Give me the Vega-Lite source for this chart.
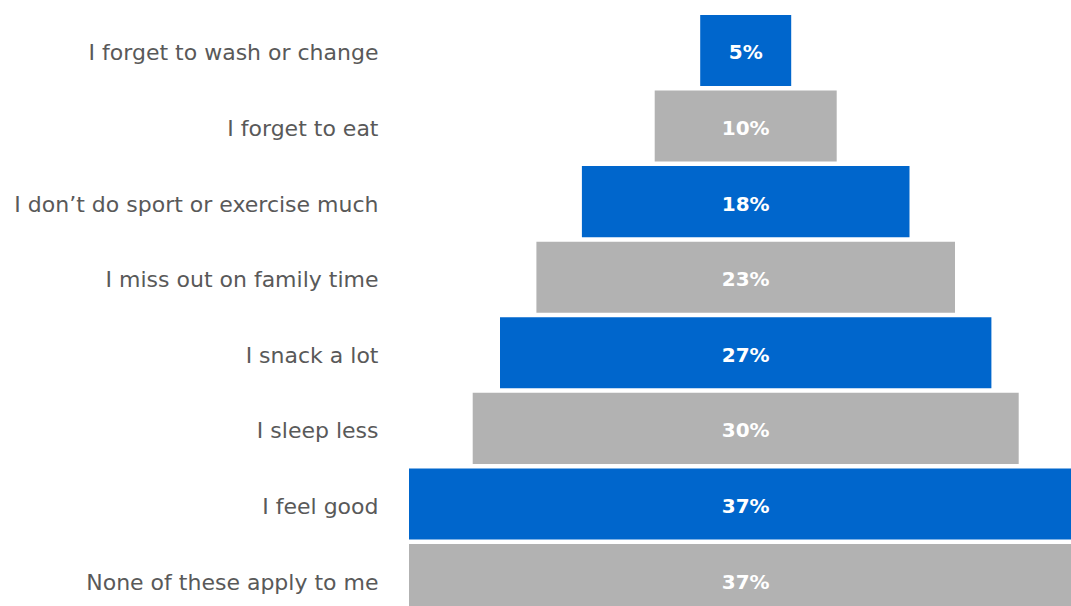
{
  "$schema": "https://vega.github.io/schema/vega-lite/v6.json",
  "autosize": "none",
  "width": 662,
  "height": 593.3,
  "padding": {"left": 409, "top": 12.7, "right": 0, "bottom": 0},
  "background": "white",
  "config": {"view": {"stroke": null}, "font": "DejaVu Sans"},
  "data": {
    "values": [
      {"rank": 1, "label": "I forget to wash or change", "value": 0.05},
      {"rank": 2, "label": "I forget to eat", "value": 0.10},
      {"rank": 3, "label": "I don’t do sport or exercise much", "value": 0.18},
      {"rank": 4, "label": "I miss out on family time", "value": 0.23},
      {"rank": 5, "label": "I snack a lot", "value": 0.27},
      {"rank": 6, "label": "I sleep less", "value": 0.30},
      {"rank": 7, "label": "I feel good", "value": 0.37},
      {"rank": 8, "label": "None of these apply to me", "value": 0.37}
    ]
  },
  "encoding": {
    "y": {
      "field": "label",
      "type": "nominal",
      "sort": {"field": "rank", "order": "ascending"},
      "scale": {"range": [0, 604.6], "paddingInner": 0.06, "paddingOuter": 0.03},
      "axis": {
        "title": null,
        "ticks": false,
        "domain": false,
        "labelFontSize": 22,
        "labelFontWeight": "normal",
        "labelColor": "#595959",
        "labelPadding": 31,
        "labelOffset": 3,
        "labelLimit": 500,
        "labelFont": "DejaVu Sans"
      }
    }
  },
  "layer": [
    {
      "mark": {"type": "bar", "clip": true},
      "encoding": {
        "x": {
          "field": "value",
          "type": "quantitative",
          "stack": "center",
          "scale": {"domain": [0, 0.37], "range": [0, 673.4], "nice": false, "zero": true},
          "axis": null
        },
        "color": {
          "condition": {"test": "datum.rank % 2 == 1", "value": "#0066CC"},
          "value": "#B2B2B2"
        }
      }
    },
    {
      "mark": {"type": "text", "color": "white", "fontSize": 20, "fontWeight": "bold", "font": "DejaVu Sans", "dy": 3, "clip": true},
      "encoding": {
        "x": {"datum": 0.185, "type": "quantitative"},
        "text": {"field": "value", "type": "quantitative", "format": ".0%"}
      }
    }
  ]
}
